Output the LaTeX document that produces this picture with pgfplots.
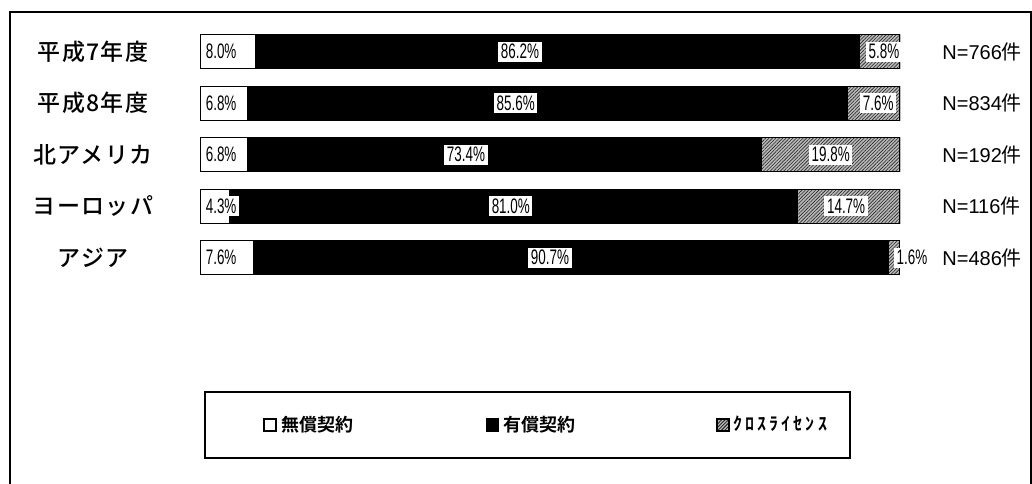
\documentclass[border=0pt]{standalone}
\usepackage{pgfplots}
\pgfplotsset{compat=1.18}
\usepackage{pgfplotstable}
\usetikzlibrary{patterns.meta}
\usepackage{fontspec}
\setmainfont{Liberation Sans}
\newfontfamily\cjk{Noto Sans CJK JP Medium}[LetterSpace=6]
\newfontfamily\cjkn{Noto Sans CJK JP}
\newfontfamily\cjkb{Noto Sans CJK JP Bold}
\newfontfamily\cjkhw{Noto Sans CJK JP Bold}[LetterSpace=17]

\pgfplotstableread{
y w p c
0 8.0 86.2 5.8
1 6.8 85.6 7.6
2 6.8 73.4 19.8
3 4.3 81.0 14.7
4 7.6 90.7 1.6
}\shares

\pgfplotstableread{
y wx wl px pl cx cl nx n
0 0.4 8.0 45.7 86.2 97.7 5.8 106 766
1 0.4 6.8 45.1 85.6 96.9 7.6 106 834
2 0.4 6.8 38.0 73.4 90.1 19.8 106 192
3 0.4 4.3 44.4 81.0 92.3 14.7 106 116
4 0.4 7.6 50.0 90.7 101.7 1.6 106 486
}\labels

\newcommand{\pct}[1]{\scalebox{0.64}[1]{\fontsize{10.5}{11}\selectfont #1\%}}
\tikzset{hatchstyle/.style={fill=gray!55, draw=black, postaction={pattern={Lines[angle=45,distance=1.2pt,line width=0.3pt]}, pattern color=black!85}}}

\pgfplotsset{common/.style={
  scale only axis, width=350pt, height=128.75pt,
  at={(100pt,99.75pt)}, anchor=south west,
  xmin=0, xmax=100, ymin=-0.5, ymax=4.5, y dir=reverse}}

\begin{document}
\begin{tikzpicture}
\useasboundingbox (0,0) rectangle (516pt,241.5pt);
% outer frame
\draw[line width=1pt] (5pt,-2pt) -- (5pt,235.5pt) -- (515.5pt,235.5pt) -- (515.5pt,-2pt);
% legend frame
\draw[line width=1pt] (102.5pt,45.5pt) rectangle (425pt,12.5pt);

\begin{axis}[common,
  xbar stacked, bar width=17pt,
  axis line style={draw=none}, xtick=\empty,
  ytick={0,1,2,3,4}, major tick length=0pt,
  yticklabels={平成7年度,平成8年度,北アメリカ,ヨーロッパ,アジア},
  yticklabel style={font=\cjk\fontsize{11.5}{13}\selectfont, anchor=center, xshift=-53.5pt},
  legend columns=3,
  legend style={draw=none, fill=none, at={(0.09,-0.5495)}, anchor=west, inner sep=0pt,
    font=\cjkb\fontsize{9}{10}\selectfont,
    /tikz/column 2/.style={column sep=64.5pt},
    /tikz/column 4/.style={column sep=68.5pt}},
]
\addplot[fill=white, draw=black, line width=0.7pt,
  legend image code/.code={\draw[fill=white,draw=black,line width=0.8pt] (0pt,-3pt) rectangle (6pt,3pt);}]
  table[x=w, y=y] {\shares};
\addlegendentry{無償契約}
\addplot[fill=black, draw=black, line width=0.7pt,
  legend image code/.code={\fill[black] (0pt,-3pt) rectangle (6pt,3pt);}]
  table[x=p, y=y] {\shares};
\addlegendentry{有償契約}
\addplot[hatchstyle, line width=0.7pt,
  legend image code/.code={\draw[hatchstyle,line width=0.6pt] (0pt,-3pt) rectangle (6pt,3pt);}]
  table[x=c, y=y] {\shares};
\addlegendentry{{\cjkhw ｸﾛｽﾗｲｾﾝｽ}}
\end{axis}

\begin{axis}[common, hide axis, clip=false]
\addplot[draw=none, mark=none, point meta=explicit symbolic,
  nodes near coords={\pct{\pgfplotspointmeta}}, nodes near coords align=west,
  nodes near coords style={fill=white, inner sep=1.3pt}]
  table[x=wx, y=y, meta=wl] {\labels};
\addplot[draw=none, mark=none, point meta=explicit symbolic,
  nodes near coords={\pct{\pgfplotspointmeta}}, nodes near coords align=center,
  nodes near coords style={fill=white, inner sep=1.3pt}]
  table[x=px, y=y, meta=pl] {\labels};
\addplot[draw=none, mark=none, point meta=explicit symbolic,
  nodes near coords={\pct{\pgfplotspointmeta}}, nodes near coords align=center,
  nodes near coords style={fill=white, inner sep=1.3pt}]
  table[x=cx, y=y, meta=cl] {\labels};
\addplot[draw=none, mark=none, point meta=explicit symbolic,
  nodes near coords={\fontsize{10}{12}\selectfont N=\pgfplotspointmeta{\cjkn 件}}, nodes near coords align=west,
  nodes near coords style={inner sep=0pt}]
  table[x=nx, y=y, meta=n] {\labels};
\end{axis}
\end{tikzpicture}
\end{document}
